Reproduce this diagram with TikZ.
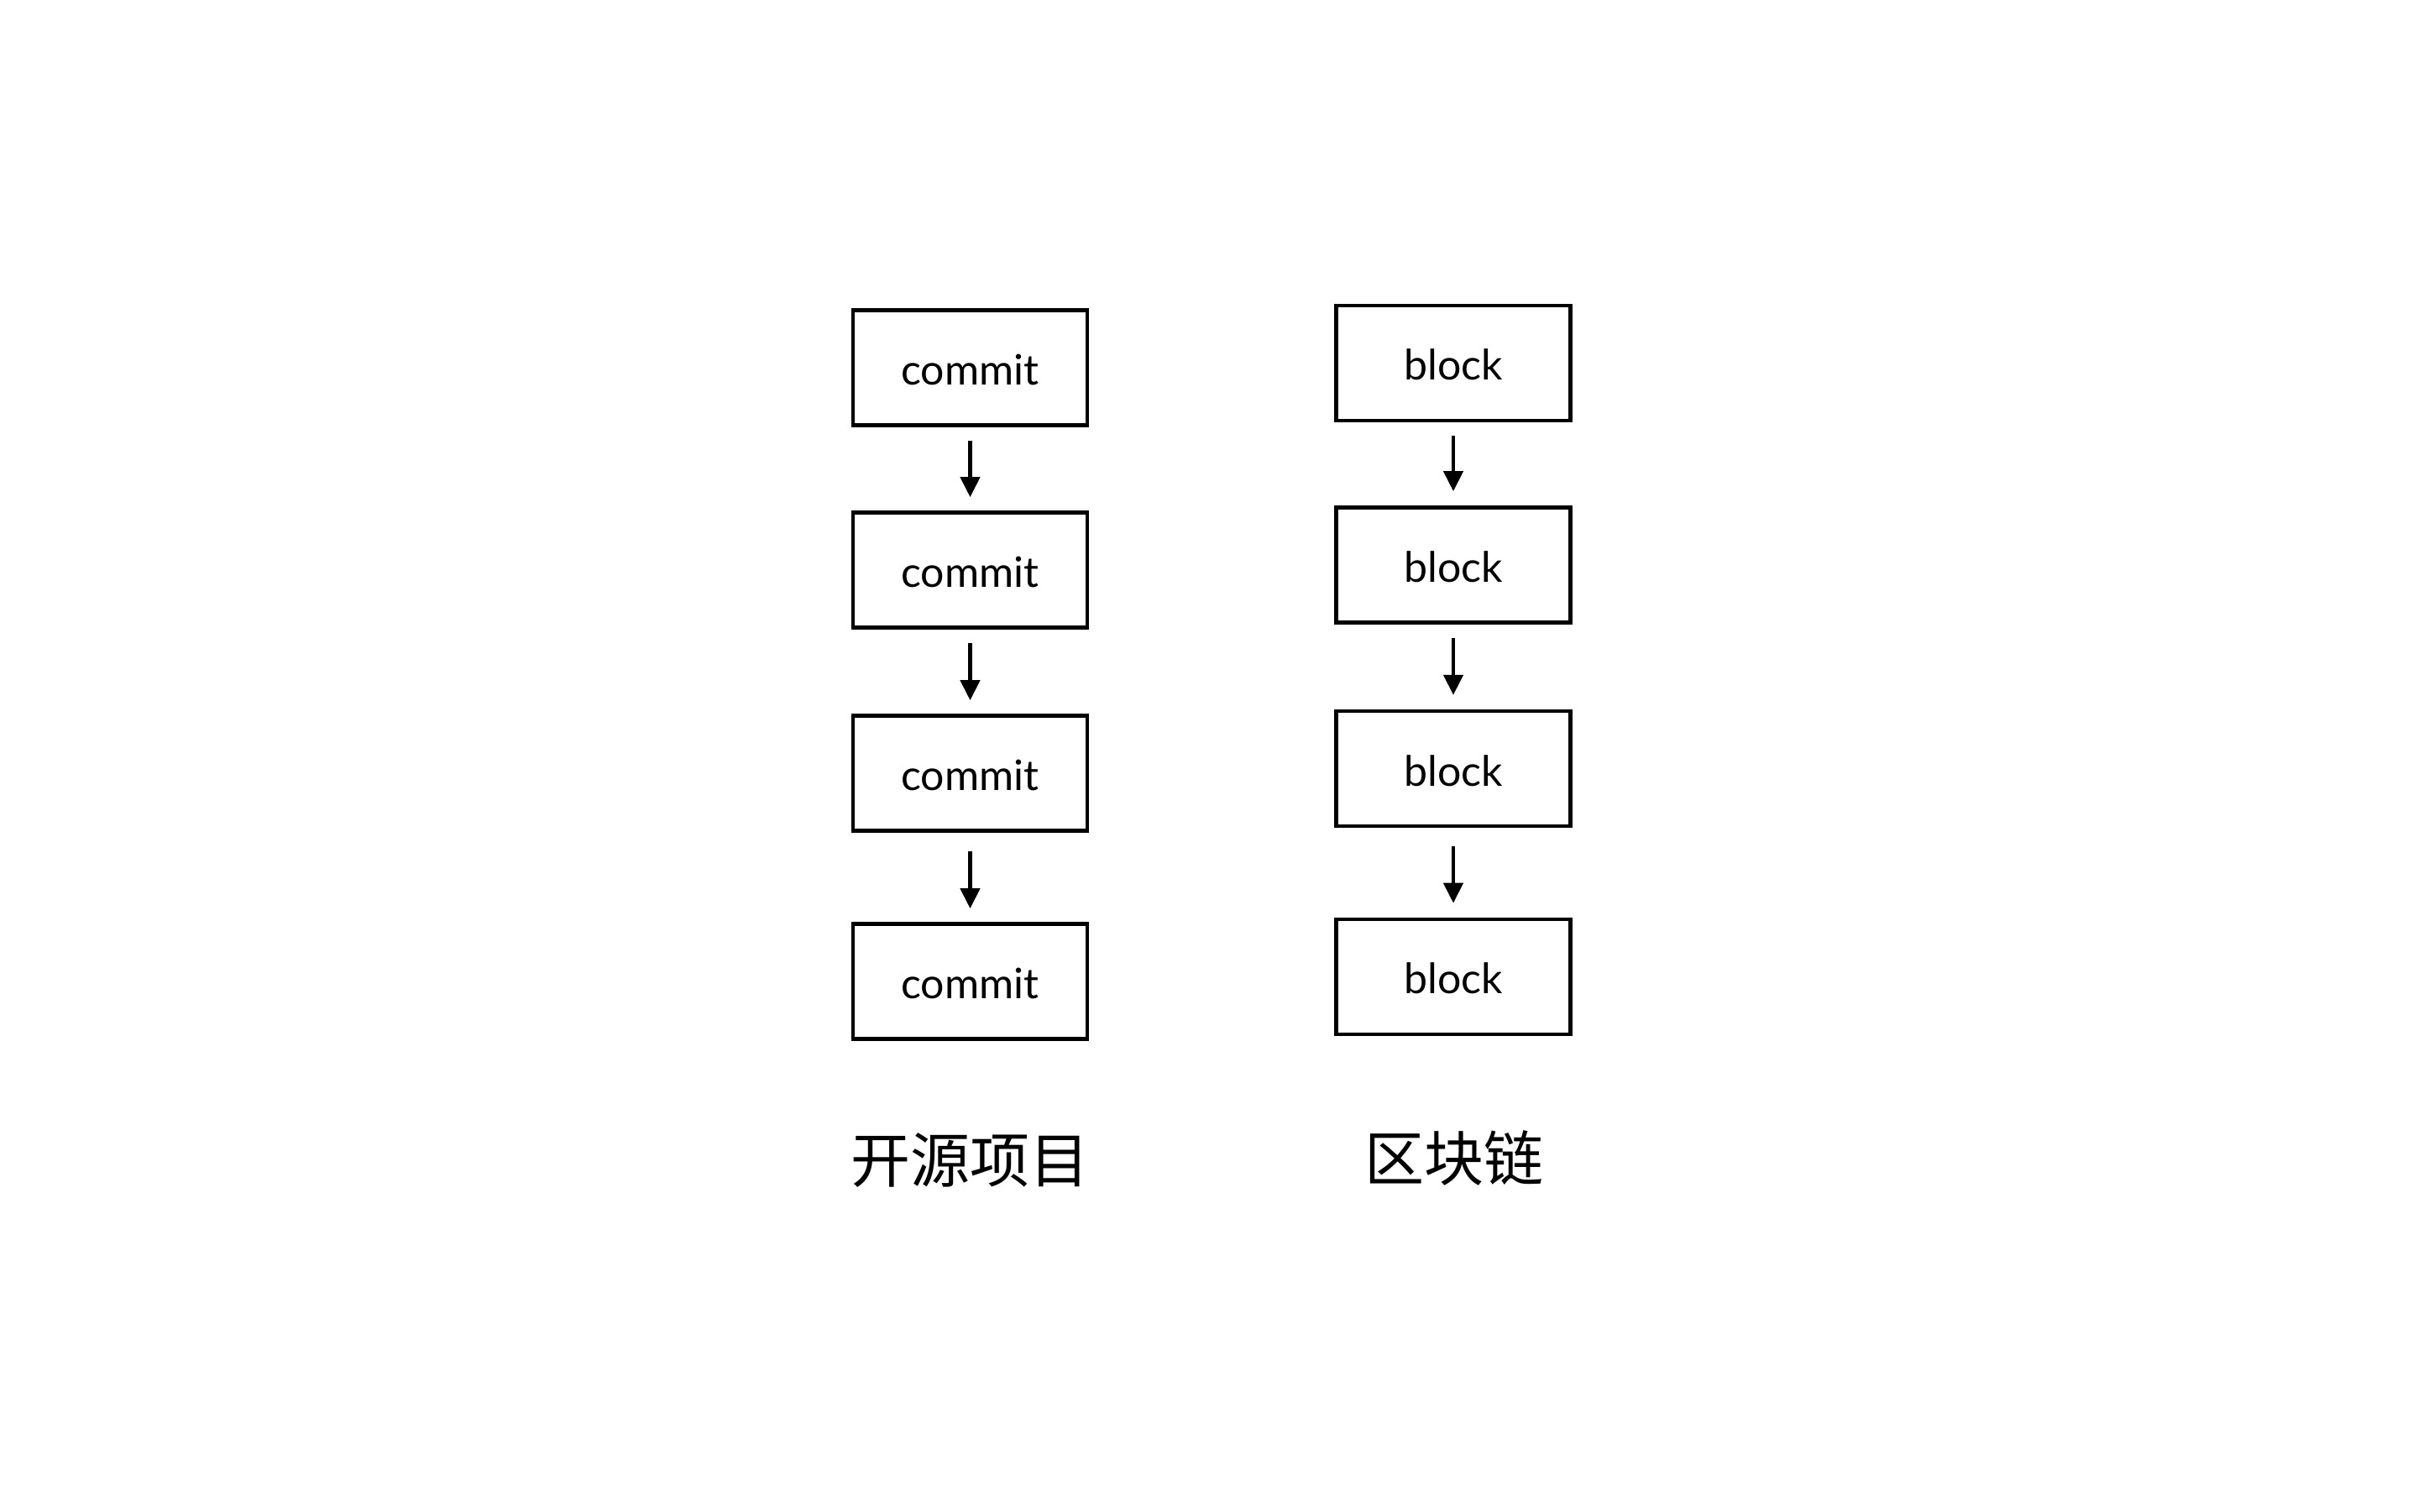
\documentclass[tikz,border=0pt]{standalone}
\usepackage{fontspec}
\setmainfont{Lato}
\newfontfamily\cjk{Noto Sans CJK SC}
\usetikzlibrary{arrows.meta}
\begin{document}
\begin{tikzpicture}[x=1pt,y=1pt,
  boxnode/.style={draw=black, line width=2.3pt, rectangle, minimum width=139.5pt, minimum height=68.5pt, inner sep=0pt, text depth=0pt, text height=20.5pt, font=\fontsize{25}{29}\selectfont},
  linkarrow/.style={line width=2.2pt, -{Triangle[width=11.5pt,length=12pt]}},
  caption/.style={font=\cjk\fontsize{35.5}{40}\selectfont, inner sep=0pt}]
\useasboundingbox (0,0) rectangle (1440,900);
\node[boxnode] (c1) at (577.75,681) {commit};
\node[boxnode] (c2) at (577.75,560.5) {commit};
\node[boxnode] (c3) at (577.75,439.5) {commit};
\node[boxnode] (c4) at (577.75,315.5) {commit};
\node[boxnode] (b1) at (865.5,683.75) {block};
\node[boxnode] (b2) at (865.5,563.5) {block};
\node[boxnode] (b3) at (865.5,442.2) {block};
\node[boxnode] (b4) at (865.5,318.25) {block};
\draw[linkarrow, shorten <=8pt, shorten >=8pt] (c1) -- (c2);
\draw[linkarrow, shorten <=8pt, shorten >=8pt] (c2) -- (c3);
\draw[linkarrow, shorten <=11pt, shorten >=8pt] (c3) -- (c4);
\draw[linkarrow, shorten <=8pt, shorten >=8.5pt] (b1) -- (b2);
\draw[linkarrow, shorten <=8pt, shorten >=8.5pt] (b2) -- (b3);
\draw[linkarrow, shorten <=11pt, shorten >=8.5pt] (b3) -- (b4);
\node[caption] (l1) at (577.5,209) {开源项目};
\node[caption] (l2) at (866,210.5) {区块链};
\end{tikzpicture}
\end{document}
